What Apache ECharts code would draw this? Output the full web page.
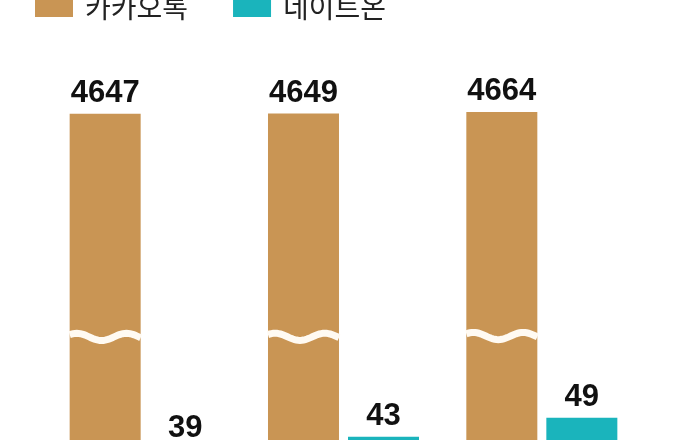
<!DOCTYPE html>
<html><head><meta charset="utf-8">
<script src="https://cdn.jsdelivr.net/npm/echarts@6/dist/echarts.min.js"></script>
<style>html,body{margin:0;padding:0;background:#fff}#c{width:686px;height:440px}</style>
</head><body><div id="c"></div>
<script>
const categories = ['1', '2', '3'];
const seriesNames = ['카카오톡', '네이트온'];
const kakaoValues = [4647, 4649, 4664];
const nateValues = [39, 43, 49];
const colors = ['#C99554', '#1AB4BC'];

const chart = echarts.init(document.getElementById('c'), null, { renderer: 'canvas' });
const labelStyle = {
  show: true, position: 'top', distance: 5,
  fontFamily: '"Liberation Sans", Arial, sans-serif', fontSize: 31, fontWeight: 'bold', color: '#111'
};
const BW = 71, GAP = 9;
chart.setOption({
  animation: false,
  backgroundColor: '#fff',
  legend: {
    data: seriesNames, left: 30, top: -12, icon: 'rect', itemWidth: 38, itemHeight: 20, itemGap: 45,
    textStyle: { fontFamily: '"Noto Sans CJK KR", sans-serif', fontSize: 28, color: '#222', padding: [0, 0, 0, 7] }
  },
  grid: { left: 46, right: 45, top: 112, bottom: -133, outerBoundsMode: 'none' },
  xAxis: { type: 'category', data: categories, show: false },
  yAxis: [
    { type: 'value', min: 0, max: 4664, show: false },
    { type: 'value', min: 0, max: 145.4, show: false }
  ],
  series: [
    { name: seriesNames[0], type: 'bar', data: kakaoValues, yAxisIndex: 0, barWidth: BW, barGap: (GAP / BW * 100).toFixed(1) + '%',
      itemStyle: { color: colors[0] }, label: labelStyle },
    { name: seriesNames[1], type: 'bar', data: nateValues, yAxisIndex: 1, barWidth: BW, barGap: (GAP / BW * 100).toFixed(1) + '%',
      itemStyle: { color: colors[1] }, label: labelStyle },
    { type: 'custom', yAxisIndex: 0, z: 5, silent: true,
      data: kakaoValues.map((v, i) => [i, v]),
      renderItem: function (params, api) {
        const idx = api.value(0), v = api.value(1);
        const c = api.coord([idx, v * 0.514]);
        const cx = c[0] - (BW + GAP) / 2;
        const x0 = cx - BW / 2, x1 = cx + BW / 2;
        const pts = [];
        for (let k = 0; k <= 40; k++) {
          const t = k / 40;
          pts.push([x0 + t * (x1 - x0), c[1] - 3.6 * Math.cos(2 * Math.PI * (t - 0.1) / 0.7)]);
        }
        return { type: 'polyline', shape: { points: pts }, style: { stroke: '#fffaf2', lineWidth: 7, fill: null } };
      }
    }
  ]
});
</script></body></html>
